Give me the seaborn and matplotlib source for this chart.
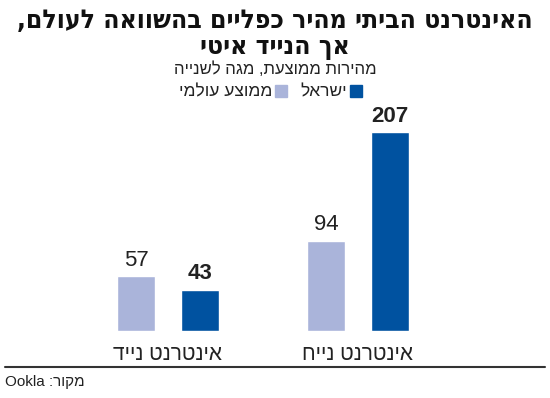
import matplotlib
matplotlib.use("Agg")
import matplotlib.pyplot as plt
import seaborn as sns
import pandas as pd
from matplotlib.lines import Line2D
from matplotlib.patches import Rectangle

def heb(s):
    # visual order for LTR rendering
    return s[::-1]

categories = ["אינטרנט נייד", "אינטרנט נייח"]
series_names = ["ממוצע עולמי", "ישראל"]
world_values = [57, 94]
israel_values = [43, 207]

title_line1 = "האינטרנט הביתי מהיר כפליים בהשוואה לעולם,"
title_line2 = "אך הנייד איטי"
subtitle = "מהירות ממוצעת, מגה לשנייה"
source = "Ookla :" + heb("מקור")

colors = {series_names[0]: "#aab4da", series_names[1]: "#0052a0"}

rows = []
for c, w, i in zip(categories, world_values, israel_values):
    rows.append({"cat": heb(c), "series": series_names[0], "value": w})
    rows.append({"cat": heb(c), "series": series_names[1], "value": i})
df = pd.DataFrame(rows)

sns.set_theme(style="white")
fam = ["Liberation Sans", "DejaVu Sans"]
plt.rcParams["font.family"] = fam

fig = plt.figure(figsize=(5.5, 3.98), dpi=100)
ax = fig.add_axes([0, 67 / 398, 1, 211 / 398])

sns.barplot(data=df, x="cat", y="value", hue="series",
            order=[heb(c) for c in categories], hue_order=series_names,
            palette=colors, width=0.67, gap=0.4, ax=ax, legend=False,
            saturation=1)

ax.set_xlim(-168 / 190, -168 / 190 + 550 / 190)
ax.set_ylim(0, 220)
for s in ax.spines.values():
    s.set_visible(False)
ax.set_yticks([])
ax.set_xlabel("")
ax.set_ylabel("")
ax.tick_params(axis="x", length=0, pad=10, labelsize=15, labelcolor="#222222")

for cont, wt in zip(ax.containers, ["normal", "bold"]):
    ax.bar_label(cont, padding=4, fontsize=16, fontweight=wt, color="#222222")

tfam = ["DejaVu Sans"]
fig.text(0.5, 1 - 28 / 398, heb(title_line1), ha="center", va="baseline",
         fontsize=19, fontweight="bold", color="#111111", family=tfam,
         fontstretch="condensed")
fig.text(0.5, 1 - 54 / 398, heb(title_line2), ha="center", va="baseline",
         fontsize=19, fontweight="bold", color="#111111", family=tfam,
         fontstretch="condensed")
fig.text(0.5, 1 - 74 / 398, heb(subtitle), ha="center", va="baseline",
         fontsize=12, color="#222222")

# legend (RTL: Israel on right)
fig.patches.append(Rectangle((350 / 550, 1 - 97 / 398), 12 / 550, 12 / 398,
                             transform=fig.transFigure, color=colors[series_names[1]]))
fig.text(347 / 550, 1 - 96 / 398, heb(series_names[1]), ha="right", va="baseline",
         fontsize=12.5, color="#222222")
fig.patches.append(Rectangle((275 / 550, 1 - 97 / 398), 12 / 550, 12 / 398,
                             transform=fig.transFigure, color=colors[series_names[0]]))
fig.text(272 / 550, 1 - 96 / 398, heb(series_names[0]), ha="right", va="baseline",
         fontsize=12.5, color="#222222")

fig.add_artist(Line2D([5 / 550, 545 / 550], [1 - 367 / 398] * 2,
                      transform=fig.transFigure, color="#333333", lw=1.5))
fig.text(5 / 550, 1 - 382 / 398, source, ha="left", va="center",
         fontsize=11, color="#222222")

fig.savefig("out.png", dpi=100)
